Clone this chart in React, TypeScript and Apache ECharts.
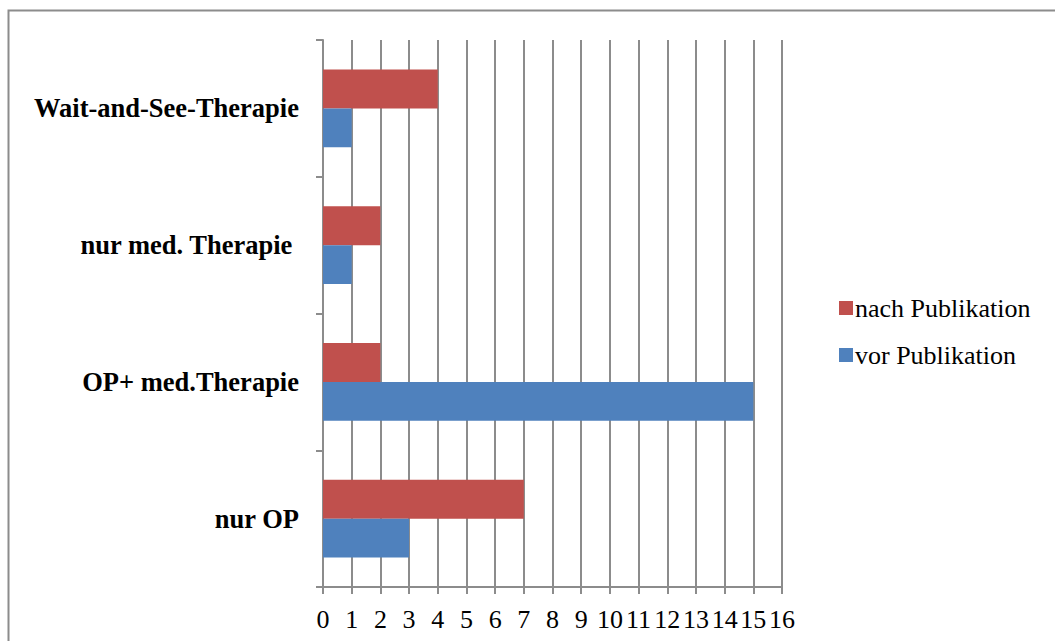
import React, { useEffect, useRef } from "react";
import * as echarts from "echarts";

const categories = ["nur OP", "OP+ med.Therapie", "nur med. Therapie ", "Wait-and-See-Therapie"];
const vorValues = [3, 15, 1, 1];
const nachValues = [7, 2, 2, 4];
const seriesNames = ["nach Publikation", "vor Publikation"];

const FONT = "'Liberation Serif', 'Times New Roman', serif";

export default function App() {
  const ref = useRef<HTMLDivElement>(null);
  useEffect(() => {
    if (!ref.current) return;
    const chart = echarts.init(ref.current, undefined, { renderer: "svg" });
    chart.setOption({
      animation: false,
      backgroundColor: "#ffffff",
      graphic: [
        {
          type: "rect",
          shape: { x: 8.5, y: 10.5, width: 1200, height: 800 },
          style: { fill: "none", stroke: "#8c8c8c", lineWidth: 2 },
          silent: true,
        },
      ],
      grid: { left: 323, right: 273, top: 40, bottom: 54, containLabel: false },
      legend: {
        orient: "vertical",
        left: 834,
        top: 290,
        itemWidth: 14,
        itemHeight: 14,
        itemGap: 21,
        icon: "rect",
        data: [seriesNames[0], seriesNames[1]],
        textStyle: { fontFamily: FONT, fontSize: 26, color: "#000", padding: [0, 0, 0, -3] },
      },
      xAxis: {
        type: "value",
        min: 0,
        max: 16,
        interval: 1,
        axisLine: { show: true, lineStyle: { color: "#8c8c8c", width: 2 } },
        axisTick: { show: true, length: 7, lineStyle: { color: "#8c8c8c", width: 2 } },
        splitLine: { show: true, lineStyle: { color: "#8c8c8c", width: 2 } },
        axisLabel: { fontFamily: FONT, fontSize: 26, color: "#000", margin: 19 },
      },
      yAxis: {
        type: "category",
        data: categories,
        axisLine: { show: true, lineStyle: { color: "#8c8c8c", width: 2 } },
        axisTick: { show: true, length: 7, lineStyle: { color: "#8c8c8c", width: 2 } },
        axisLabel: { fontFamily: FONT, fontSize: 26.5, fontWeight: "bold", color: "#000", margin: 24 },
      },
      series: [
        {
          name: seriesNames[0],
          type: "bar",
          data: nachValues,
          itemStyle: { color: "#C0504D" },
          barGap: "0%",
          barCategoryGap: "43%",
        },
        {
          name: seriesNames[1],
          type: "bar",
          data: vorValues,
          itemStyle: { color: "#4F81BD" },
          barGap: "0%",
          barCategoryGap: "43%",
        },
      ],
    });
    return () => chart.dispose();
  }, []);
  return (
    <div
      ref={ref}
      style={{ position: "fixed", left: 0, top: 0, width: 1055, height: 641 }}
    />
  );
}
